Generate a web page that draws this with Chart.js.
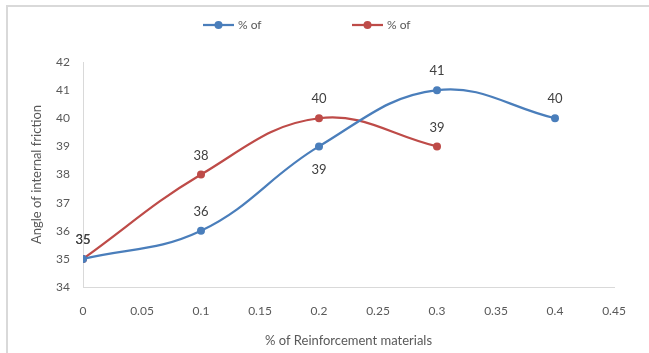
<!DOCTYPE html>
<html>
<head>
<meta charset="utf-8">
<script src="https://cdn.jsdelivr.net/npm/chart.js@4/dist/chart.umd.min.js"></script>
<style>
  html, body { margin: 0; padding: 0; background: #ffffff; }
  #wrap { position: relative; width: 649px; height: 353px; overflow: hidden; }
  #frame { position: absolute; left: 6px; top: 5px; width: 660px; height: 360px;
           border-top: 2px solid #d9d9d9; border-left: 2px solid #d9d9d9; }
  canvas { position: absolute; left: 0; top: 0; }
</style>
</head>
<body>
<div id="wrap">
  <div id="frame"></div>
  <canvas id="c" width="649" height="353"></canvas>
</div>
<script>
// Reinforcement content (%) and measured friction angles (degrees)
const reinforcement = [0, 0.1, 0.2, 0.3, 0.4];
const frictionSeriesA = [35, 36, 39, 41, 40];
const frictionSeriesB = [35, 38, 40, 39];
const seriesNames = ['% of', '% of'];
const xTickLabels = ['0', '0.05', '0.1', '0.15', '0.2', '0.25', '0.3', '0.35', '0.4', '0.45'];
const yTickLabels = ['34', '35', '36', '37', '38', '39', '40', '41', '42'];

const BLUE = '#4a7ebb';
const RED = '#be4b48';
const FONT = 'Lato, "Open Sans", sans-serif';

function toPoints(xs, ys) {
  return ys.map((y, i) => ({ x: xs[i], y: y }));
}

// Labels above each point (one blue label sits below its point)
const labelPlugin = {
  id: 'pointLabels',
  afterDatasetsDraw(chart) {
    const ctx = chart.ctx;
    ctx.save();
    ctx.font = '13px ' + FONT;
    ctx.fillStyle = '#404040';
    ctx.textAlign = 'center';
    ctx.textBaseline = 'middle';
    chart.data.datasets.forEach((ds, di) => {
      const meta = chart.getDatasetMeta(di);
      meta.data.forEach((pt, i) => {
        const below = ds.labelBelow && ds.labelBelow[i];
        const dy = below ? 23 : -19;
        ctx.fillText(String(ds.data[i].y), pt.x, pt.y + dy);
      });
    });
    ctx.restore();
  }
};

// Line-and-marker legend across the top
const legendPlugin = {
  id: 'lineLegend',
  afterDraw(chart) {
    const ctx = chart.ctx;
    const starts = [203, 352];
    ctx.save();
    chart.data.datasets.forEach((ds, di) => {
      const x0 = starts[di];
      const y = 25;
      ctx.strokeStyle = ds.borderColor;
      ctx.lineWidth = 2.25;
      ctx.beginPath();
      ctx.moveTo(x0, y);
      ctx.lineTo(x0 + 31, y);
      ctx.stroke();
      ctx.fillStyle = ds.borderColor;
      ctx.beginPath();
      ctx.arc(x0 + 15.5, y, 4, 0, Math.PI * 2);
      ctx.fill();
      ctx.fillStyle = '#595959';
      ctx.font = '12px ' + FONT;
      ctx.textAlign = 'left';
      ctx.textBaseline = 'middle';
      ctx.fillText(ds.label, x0 + 35, y);
    });
    ctx.restore();
  }
};

new Chart(document.getElementById('c'), {
  type: 'line',
  data: {
    datasets: [
      {
        label: seriesNames[0],
        data: toPoints(reinforcement, frictionSeriesA),
        borderColor: BLUE,
        backgroundColor: BLUE,
        borderWidth: 2.25,
        pointRadius: 4,
        pointBackgroundColor: BLUE,
        pointBorderWidth: 0,
        tension: 0.4,
        labelBelow: [false, false, true, false, false]
      },
      {
        label: seriesNames[1],
        data: toPoints(reinforcement, frictionSeriesB),
        borderColor: RED,
        backgroundColor: RED,
        borderWidth: 2.25,
        pointRadius: 4,
        pointBackgroundColor: RED,
        pointBorderWidth: 0,
        tension: 0.4
      }
    ]
  },
  options: {
    responsive: false,
    animation: false,
    layout: { padding: { left: 0, right: 35, top: 62, bottom: 0 } },
    plugins: {
      legend: { display: false },
      tooltip: { enabled: false }
    },
    scales: {
      x: {
        type: 'linear',
        min: 0,
        max: 0.45,
        afterBuildTicks(scale) {
          scale.ticks = xTickLabels.map(v => ({ value: parseFloat(v) }));
        },
        afterFit(scale) { scale.height = 66; },
        grid: { display: false, drawTicks: false },
        border: { display: true, color: '#d9d9d9', width: 1 },
        ticks: {
          padding: 17,
          color: '#595959',
          font: { family: FONT, size: 12 },
          maxRotation: 0,
          autoSkip: false,
          callback: (v, i) => xTickLabels[i]
        },
        title: {
          display: true,
          text: '% of Reinforcement materials',
          color: '#595959',
          font: { family: FONT, size: 13 },
          padding: { top: 0, bottom: 4 }
        }
      },
      y: {
        type: 'linear',
        min: 34,
        max: 42,
        afterBuildTicks(scale) {
          scale.ticks = yTickLabels.map(v => ({ value: Number(v) }));
        },
        afterFit(scale) { scale.width = 83; },
        grid: { display: false, drawTicks: false },
        border: { display: true, color: '#d9d9d9', width: 1 },
        ticks: {
          padding: 13,
          color: '#595959',
          font: { family: FONT, size: 12 },
          autoSkip: false,
          callback: (v, i) => yTickLabels[i]
        },
        title: {
          display: true,
          text: 'Angle of internal friction',
          color: '#595959',
          font: { family: FONT, size: 13 },
          padding: { top: 29, bottom: 0 }
        }
      }
    }
  },
  plugins: [labelPlugin, legendPlugin]
});
</script>
</body>
</html>
